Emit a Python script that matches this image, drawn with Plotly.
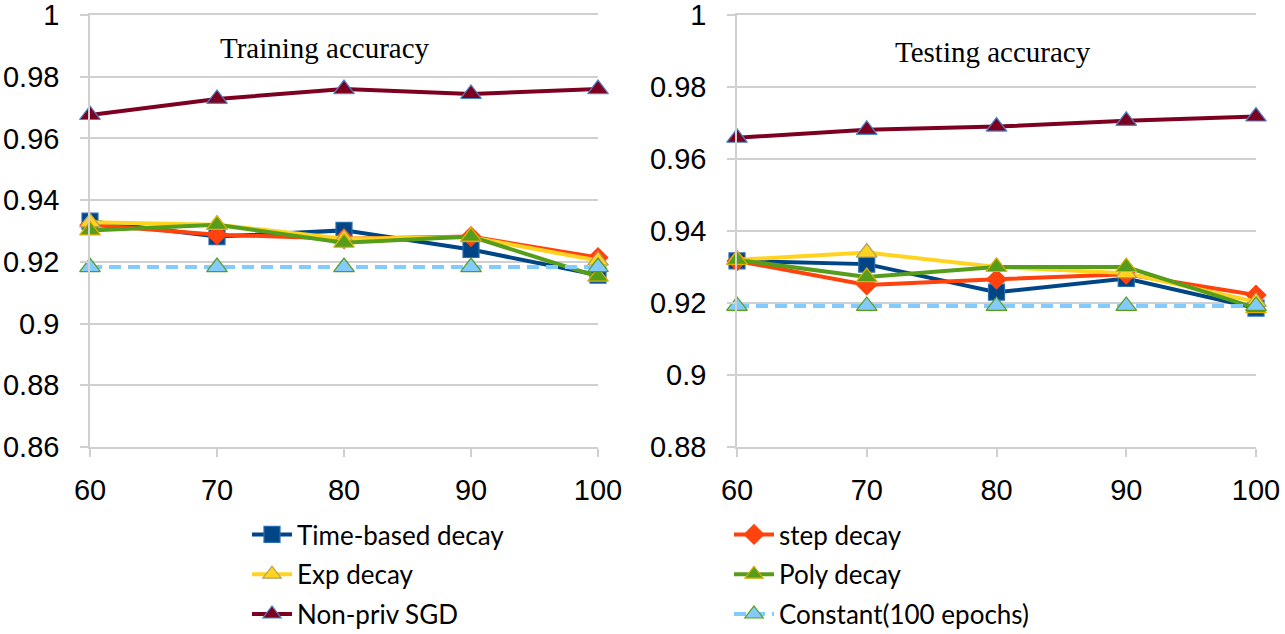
import plotly.graph_objects as go

epochs = [60, 70, 80, 90, 100]

train_time_based = [0.9332, 0.9282, 0.9302, 0.9240, 0.9157]
train_step = [0.9320, 0.9288, 0.9275, 0.9282, 0.9214]
train_exp = [0.9328, 0.9320, 0.9275, 0.9280, 0.9204]
train_poly = [0.9302, 0.9320, 0.9262, 0.9282, 0.9152]
train_nonpriv = [0.9676, 0.9728, 0.9760, 0.9744, 0.9760]
train_constant = [0.9183, 0.9183, 0.9183, 0.9183, 0.9183]

test_time_based = [0.9317, 0.9308, 0.9230, 0.9268, 0.9186]
test_step = [0.9317, 0.9250, 0.9266, 0.9280, 0.9222]
test_exp = [0.9320, 0.9340, 0.9300, 0.9283, 0.9203]
test_poly = [0.9320, 0.9272, 0.9300, 0.9300, 0.9186]
test_nonpriv = [0.9659, 0.9681, 0.9690, 0.9706, 0.9718]
test_constant = [0.9192, 0.9192, 0.9192, 0.9192, 0.9192]

x_ticks = [60, 70, 80, 90, 100]
train_y_ticks = [0.86, 0.88, 0.9, 0.92, 0.94, 0.96, 0.98, 1]
train_y_labels = ["0.86", "0.88", "0.9", "0.92", "0.94", "0.96", "0.98", "1"]
test_y_ticks = [0.88, 0.9, 0.92, 0.94, 0.96, 0.98, 1]
test_y_labels = ["0.88", "0.9", "0.92", "0.94", "0.96", "0.98", "1"]

series_names = ["Time-based decay", "step decay", "Exp decay", "Poly decay",
                "Non-priv SGD", "Constant(100 epochs)"]

styles = {
    "Time-based decay": dict(color="#004586", symbol="square", msize=16, mfill="#004586",
                             mline="#2a6db0", dash="solid", legend="legend"),
    "step decay": dict(color="#ff420e", symbol="diamond", msize=15, mfill="#ff420e",
                       mline="#ff420e", dash="solid", legend="legend2"),
    "Exp decay": dict(color="#ffd320", symbol="triangle-up", msize=18, mfill="#ffd320",
                      mline="#b0a060", dash="solid", legend="legend"),
    "Poly decay": dict(color="#579d1c", symbol="triangle-up", msize=18, mfill="#579d1c",
                       mline="#e0b000", dash="solid", legend="legend2"),
    "Non-priv SGD": dict(color="#7e0021", symbol="triangle-up", msize=18, mfill="#7e0021",
                         mline="#4a86c8", dash="solid", legend="legend"),
    "Constant(100 epochs)": dict(color="#83caff", symbol="triangle-up", msize=18, mfill="#83caff",
                                 mline="#579d1c", dash="12px,7px", legend="legend2"),
}

train_data = [train_time_based, train_step, train_exp, train_poly, train_nonpriv, train_constant]
test_data = [test_time_based, test_step, test_exp, test_poly, test_nonpriv, test_constant]

fig = go.Figure()

for name, ys in zip(series_names, train_data):
    s = styles[name]
    fig.add_trace(go.Scatter(
        x=epochs, y=ys, name=name, mode="lines+markers",
        line=dict(color=s["color"], width=4, dash=s["dash"]),
        marker=dict(symbol=s["symbol"], size=s["msize"], color=s["mfill"],
                    line=dict(color=s["mline"], width=1.2)),
        xaxis="x", yaxis="y", cliponaxis=False,
        legend=s["legend"], legendgroup=name, showlegend=True,
    ))

for name, ys in zip(series_names, test_data):
    s = styles[name]
    fig.add_trace(go.Scatter(
        x=epochs, y=ys, name=name, mode="lines+markers",
        line=dict(color=s["color"], width=4, dash=s["dash"]),
        marker=dict(symbol=s["symbol"], size=s["msize"], color=s["mfill"],
                    line=dict(color=s["mline"], width=1.2)),
        xaxis="x2", yaxis="y2", cliponaxis=False,
        legend=s["legend"], legendgroup=name, showlegend=False,
    ))

W, H = 1285, 634
tickfont = dict(family="Liberation Sans, Arial, sans-serif", size=29, color="#000000")
grid = "#d0d0d0"

def xaxis_cfg(dom, anchor):
    return dict(domain=dom, anchor=anchor, range=[60, 100], tickvals=x_ticks,
                ticktext=[str(v) for v in x_ticks], showgrid=False, zeroline=False,
                showline=True, linecolor=grid, linewidth=1.5, mirror=True,
                ticks="outside", ticklen=8, tickcolor=grid, tickwidth=1.5,
                tickfont=tickfont, ticklabelstandoff=8, ticklabeloverflow="allow",
                automargin=False, fixedrange=True)

def yaxis_cfg(rng, tv, tt, anchor):
    return dict(domain=[1 - 447 / H, 1 - 15 / H], anchor=anchor, range=rng,
                tickvals=tv, ticktext=tt, showgrid=True, gridcolor=grid, gridwidth=1.5,
                zeroline=False, showline=True, linecolor=grid, linewidth=1.5,
                ticks="outside", ticklen=8, tickcolor=grid, tickwidth=1.5,
                tickfont=tickfont, ticklabelstandoff=15, ticklabeloverflow="allow",
                automargin=False, fixedrange=True)

legend_font = dict(family="Lato, Calibri, sans-serif", size=26, color="#000000")

fig.update_layout(
    width=W, height=H,
    margin=dict(l=0, r=0, t=0, b=0, autoexpand=False),
    paper_bgcolor="white", plot_bgcolor="white",
    xaxis=xaxis_cfg([90 / W, 598 / W], "y"),
    yaxis=yaxis_cfg([0.86, 1], train_y_ticks, train_y_labels, "x"),
    xaxis2=xaxis_cfg([737 / W, 1256 / W], "y2"),
    yaxis2=yaxis_cfg([0.88, 1], test_y_ticks, test_y_labels, "x2"),
    legend=dict(x=247 / W, y=1 - 511 / H, xanchor="left", yanchor="top",
                font=legend_font, tracegroupgap=3, bgcolor="rgba(0,0,0,0)",
                itemwidth=40),
    legend2=dict(x=729 / W, y=1 - 511 / H, xanchor="left", yanchor="top",
                 font=legend_font, tracegroupgap=3, bgcolor="rgba(0,0,0,0)",
                 itemwidth=40),
    annotations=[
        dict(text="Training accuracy", x=325 / W, y=1 - 48 / H, xref="paper", yref="paper",
             showarrow=False, xanchor="center", yanchor="middle",
             font=dict(family="Liberation Serif, Times New Roman, serif", size=29, color="#000")),
        dict(text="Testing accuracy", x=993 / W, y=1 - 52 / H, xref="paper", yref="paper",
             showarrow=False, xanchor="center", yanchor="middle",
             font=dict(family="Liberation Serif, Times New Roman, serif", size=29, color="#000")),
    ],
)

fig.write_html("out.html")
